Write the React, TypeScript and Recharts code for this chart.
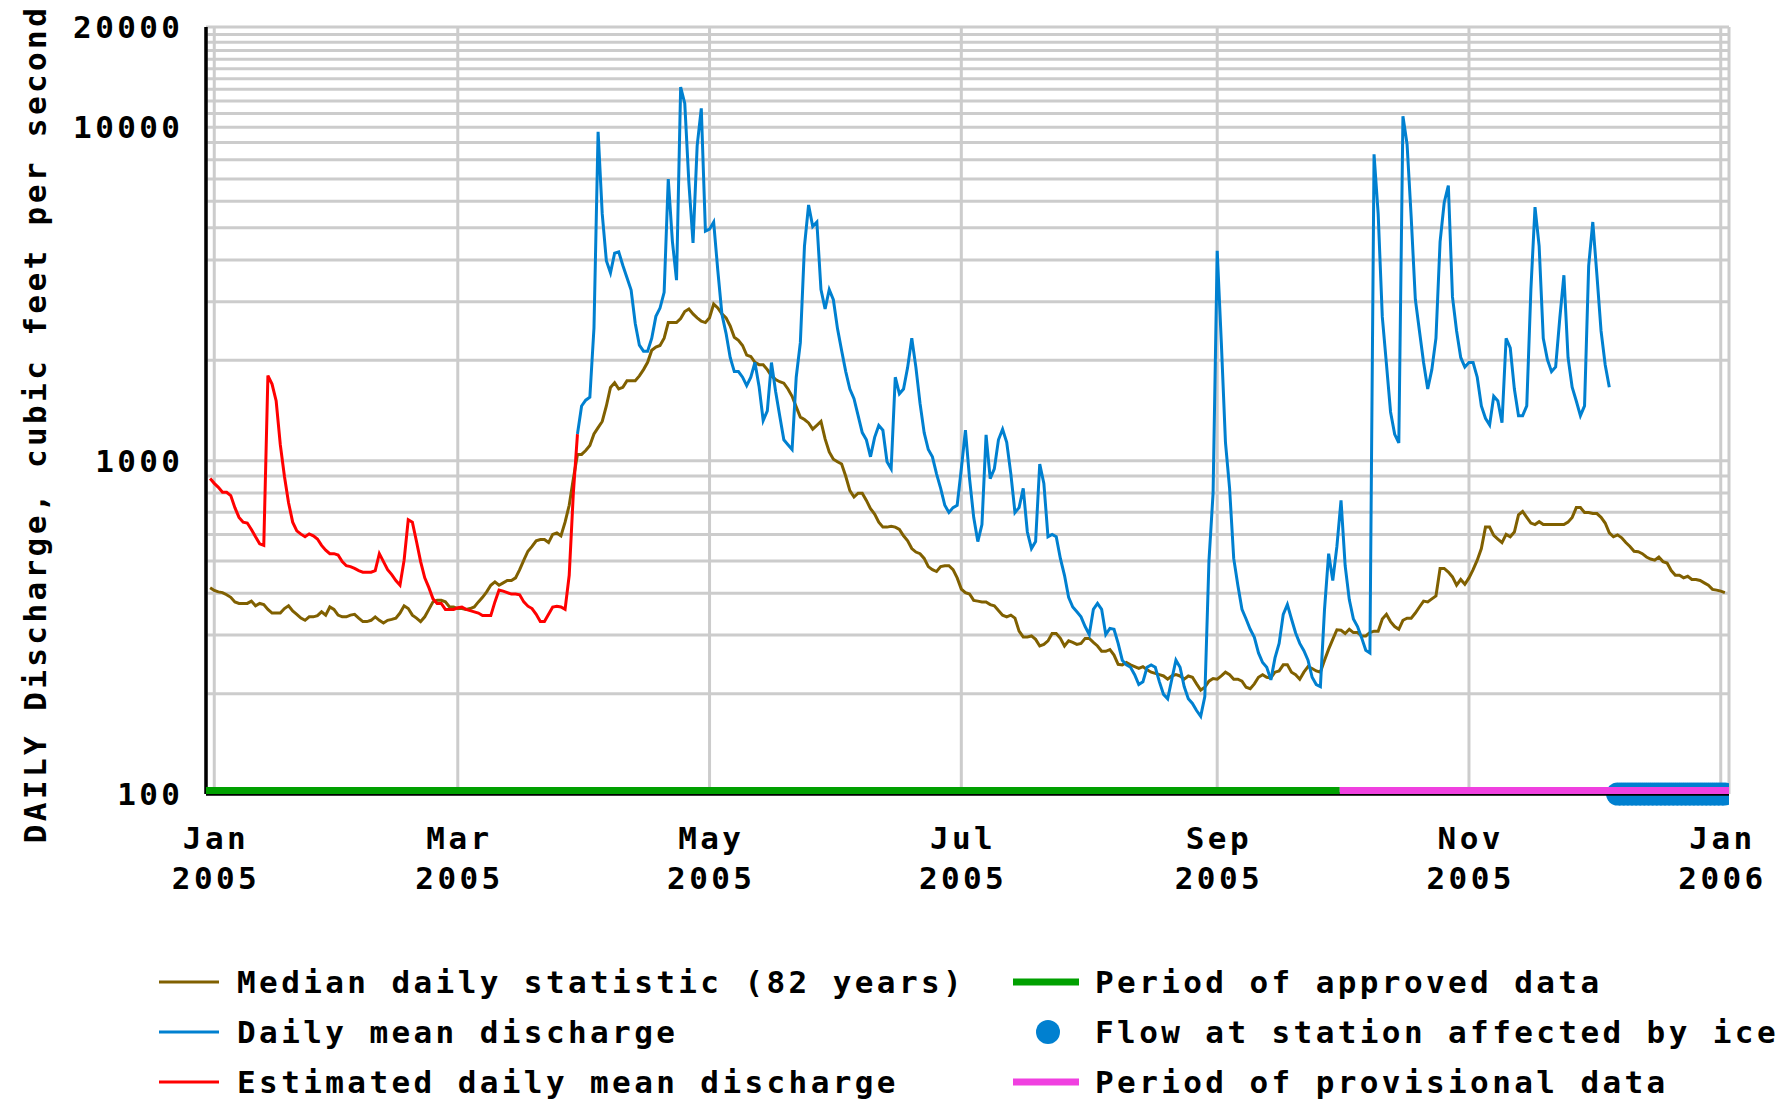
import React from "react";
import { ComposedChart, Line, Scatter, XAxis, YAxis, CartesianGrid } from "recharts";

// day 0 = Jan 1 2005, values in cubic feet per second
const medianStart = -1;
const medianCfs = [
  416, 408, 404, 402, 396, 389, 377, 373, 373, 373,
  379, 367, 373, 370, 358, 349, 349, 349, 360, 367,
  354, 346, 337, 332, 340, 340, 343, 352, 344, 364,
  358, 344, 340, 340, 344, 346, 337, 329, 329, 332,
  340, 332, 326, 332, 334, 337, 349, 367, 360, 344,
  337, 329, 340, 358, 377, 381, 381, 377, 364, 364,
  360, 360, 358, 360, 364, 377, 389, 404, 423, 433,
  423, 430, 437, 437, 445, 471, 503, 535, 553, 575,
  580, 580, 568, 601, 607, 595, 654, 735, 883, 1044,
  1044, 1073, 1110, 1202, 1256, 1311, 1459, 1659, 1714, 1641,
  1659, 1737, 1737, 1737, 1796, 1876, 1973, 2144, 2193, 2216,
  2330, 2596, 2596, 2596, 2670, 2803, 2852, 2756, 2683, 2620,
  2596, 2683, 2949, 2871, 2756, 2683, 2536, 2345, 2297, 2216,
  2074, 2054, 1973, 1941, 1941, 1876, 1796, 1752, 1725, 1708,
  1641, 1560, 1450, 1351, 1329, 1298, 1243, 1276, 1311, 1162,
  1062, 1010, 993, 977, 898, 813, 778, 799, 799, 760,
  718, 692, 654, 632, 632, 636, 632, 622, 595, 575,
  545, 532, 526, 509, 481, 471, 465, 481, 484, 484,
  471, 445, 412, 402, 398, 381, 379, 377, 377, 370,
  367, 355, 344, 340, 344, 337, 308, 296, 296, 298,
  291, 278, 281, 288, 303, 303, 293, 278, 288, 285,
  281, 283, 293, 293, 285, 278, 268, 268, 271, 261,
  245, 244, 248, 244, 241, 238, 241, 236, 232, 230,
  228, 226, 221, 226, 228, 226, 221, 226, 224, 214,
  205, 209, 218, 222, 221, 226, 232, 228, 221, 221,
  218, 209, 207, 214, 224, 228, 224, 223, 232, 234,
  244, 244, 232, 228, 221, 232, 241, 238, 234, 232,
  252, 272, 291, 311, 310, 303, 312, 305, 305, 298,
  298, 305, 308, 308, 335, 346, 329, 318, 312, 332,
  337, 337, 349, 364, 379, 377, 385, 393, 475, 475,
  463, 448, 423, 440, 426, 445, 471, 503, 545, 632,
  632, 597, 582, 568, 601, 591, 611, 688, 704, 676,
  650, 643, 656, 643, 643, 643, 643, 643, 643, 654,
  676, 723, 723, 699, 699, 694, 694, 676, 650, 607,
  591, 599, 587, 568, 553, 535, 533, 526, 514, 507,
  503, 514, 498, 493, 468, 453, 453, 445, 450, 440,
  440, 437, 430, 423, 411, 409, 406, 402,
];

const estimatedStart = -1;
const estimatedCfs = [
  884, 855, 832, 804, 804, 786, 723, 676, 654, 650,
  622, 591, 563, 557, 1800, 1697, 1510, 1117, 898, 748,
  654, 616, 602, 591, 603, 595, 582, 557, 539, 526,
  526, 521, 498, 484, 481, 475, 468, 463, 463, 463,
  468, 526, 498, 471, 455, 437, 423, 503, 665, 654,
  572, 498, 445, 416, 385, 373, 373, 358, 358, 358,
  362, 364, 358, 355, 352, 349, 343, 343, 343, 377,
  409, 406, 402, 398, 398, 396, 377, 366, 360, 346,
  329, 329, 346, 364, 366, 364, 358, 453, 799, 1202,
];

const dailyStart = 88;
const dailyCfs = [
  1202, 1459, 1519, 1550, 2500, 9700, 5500, 3980, 3660, 4190,
  4230, 3850, 3540, 3250, 2580, 2220, 2130, 2130, 2330, 2710,
  2870, 3200, 7000, 4550, 3480, 13200, 11800, 6800, 4500, 8800,
  11400, 4880, 4950, 5200, 3720, 2750, 2410, 2040, 1850, 1850,
  1780, 1680, 1780, 1970, 1670, 1320, 1410, 1970, 1615, 1365,
  1155, 1117, 1080, 1780, 2260, 4400, 5850, 5040, 5200, 3260,
  2850, 3260, 3040, 2490, 2140, 1850, 1640, 1535, 1365, 1214,
  1155, 1027, 1175, 1276, 1234, 993, 945, 1780, 1587, 1640,
  1905, 2330, 1905, 1485, 1214, 1080, 1027, 913, 826, 735,
  699, 723, 735, 945, 1234, 883, 676, 572, 643, 1195,
  883, 945, 1155, 1243, 1135, 913, 699, 723, 826, 611,
  545, 572, 977, 855, 591, 601, 591, 509, 453, 389,
  364, 352, 340, 318, 301, 358, 373, 358, 301, 314,
  312, 283, 252, 244, 240, 228, 213, 217, 240, 244,
  240, 217, 199, 193, 221, 252, 240, 210, 193, 187,
  178, 171, 196, 500, 799, 4260, 2260, 1135, 826, 509,
  423, 358, 335, 312, 295, 265, 248, 240, 220, 256,
  283, 346, 370, 335, 304, 283, 269, 252, 224, 213,
  210, 358, 526, 437, 553, 760, 484, 383, 335, 318,
  294, 270, 265, 8300, 5500, 2700, 1950, 1400, 1200, 1130,
  10800, 8900, 5380, 3050, 2450, 1970, 1640, 1875, 2330, 4540,
  5950, 6690, 3100, 2450, 2040, 1910, 1970, 1970, 1780, 1460,
  1340, 1280, 1560, 1510, 1300, 2330, 2180, 1640, 1365, 1365,
  1460, 3260, 5760, 4400, 2330, 2010, 1850, 1910, 2670, 3600,
  2040, 1660, 1510, 1365, 1460, 3840, 5200, 3600, 2450, 1940,
  1660,
];

// days flagged as ice-affected (drawn on the 100 cfs baseline)
const iceDays = [
  340, 341, 342, 343, 344, 345, 346, 347, 348, 349, 350, 351, 352,
  353, 354, 355, 356, 357, 358, 359, 360, 361, 362, 363, 364, 365, 366,
];
const approvedPeriod = [-2, 272.7];
const provisionalPeriod = [272.7, 367];

const monthTicks = [0, 59, 120, 181, 243, 304, 365];
const monthNames = ["Jan", "Mar", "May", "Jul", "Sep", "Nov", "Jan"];
const yearNames = ["2005", "2005", "2005", "2005", "2005", "2005", "2006"];
const monthStarts = [0, 31, 59, 90, 120, 151, 181, 212, 243, 273, 304, 334];
const yGrid = [
  100, 200, 300, 400, 500, 600, 700, 800, 900,
  1000, 2000, 3000, 4000, 5000, 6000, 7000, 8000, 9000,
  10000, 11000, 12000, 13000, 14000, 15000, 16000, 17000, 18000, 19000, 20000,
];
const yLabeled = [100, 1000, 10000, 20000];

const MEDIAN = "#806000";
const BLUE = "#0080d0";
const RED = "#ff0000";
const GREEN = "#00a000";
const PINK = "#f040e0";
const FONT = '"DejaVu Sans Mono", "Liberation Mono", monospace';
const TEXT = { fontFamily: FONT, fontSize: 31, fontWeight: 700, fill: "#000", letterSpacing: 3.4 };

const toPoints = (start: number, vals: number[]) => vals.map((v, i) => ({ day: start + i, cfs: v }));
const median = toPoints(medianStart, medianCfs);
const estimated = toPoints(estimatedStart, estimatedCfs);
const daily = toPoints(dailyStart, dailyCfs);
const ice = iceDays.map((d) => ({ day: d, cfs: 100 }));
const approved = approvedPeriod.map((d) => ({ day: d, cfs: 100 }));
const provisional = provisionalPeriod.map((d) => ({ day: d, cfs: 100 }));
const topTicks = [...monthStarts.flatMap((s) => [s, s + 10, s + 20]), 365];

const border = { stroke: "#000", strokeWidth: 3.5 };

function MonthTick(props: any) {
  const { x, y, payload } = props;
  const i = monthTicks.indexOf(payload.value);
  return (
    <text x={x + 1.7} y={y} textAnchor="middle" {...TEXT}>
      <tspan x={x + 1.7} dy={55}>{monthNames[i]}</tspan>
      <tspan x={x + 1.7} dy={40}>{yearNames[i]}</tspan>
    </text>
  );
}

const IceDot = (props: any) => <circle cx={props.cx} cy={props.cy} r={11.5} fill={BLUE} />;

const legendLeft = [
  { label: "Median daily statistic (82 years)", color: MEDIAN },
  { label: "Daily mean discharge", color: BLUE },
  { label: "Estimated daily mean discharge", color: RED },
];
const legendRight = [
  { label: "Period of approved data", color: GREEN, kind: "bar" },
  { label: "Flow at station affected by ice", color: BLUE, kind: "dot" },
  { label: "Period of provisional data", color: PINK, kind: "bar" },
];
const rowY = [982, 1032, 1082];

export default function App() {
  return (
    <div style={{ position: "absolute", left: 0, top: 0, width: 1786, height: 1101, background: "#fff" }}>
      <ComposedChart width={1786} height={1101} margin={{ top: 27, right: 57, bottom: 0, left: 0 }}>
        <CartesianGrid stroke="#cccccc" strokeWidth={3} />
        <XAxis
          dataKey="day"
          type="number"
          domain={[-2, 367]}
          ticks={monthTicks}
          interval={0}
          allowDataOverflow
          height={307}
          tickSize={0}
          tickMargin={0}
          tickLine={false}
          tick={<MonthTick />}
          axisLine={border}
        />
        <XAxis
          xAxisId="top"
          orientation="top"
          type="number"
          domain={[-2, 367]}
          ticks={topTicks}
          interval={0}
          allowDataOverflow
          mirror
          height={0}
          tick={false}
          tickSize={7}
          tickLine={{ stroke: "#000", strokeWidth: 3 }}
          axisLine={border}
        />
        <YAxis
          scale="log"
          domain={[100, 20000]}
          ticks={yGrid}
          interval={0}
          allowDataOverflow
          width={206}
          tickSize={0}
          tickMargin={22.6}
          tickLine={false}
          tick={TEXT}
          tickFormatter={(v: number) => (yLabeled.includes(v) ? String(v) : "")}
          axisLine={border}
        />
        <YAxis
          yAxisId="right"
          orientation="right"
          scale="log"
          domain={[100, 20000]}
          mirror
          width={0}
          tick={false}
          tickLine={false}
          axisLine={border}
        />
        <YAxis yAxisId="ice" hide scale="log" domain={[100, 20000]} />
        <Scatter yAxisId="ice" data={ice} dataKey="cfs" shape={IceDot} isAnimationActive={false} zIndex={350} />
        <Line data={approved} dataKey="cfs" stroke={GREEN} strokeWidth={14} dot={false} activeDot={false} isAnimationActive={false} zIndex={700} />
        <Line data={provisional} dataKey="cfs" stroke={PINK} strokeWidth={14} dot={false} activeDot={false} isAnimationActive={false} zIndex={700} />
        <Line data={median} dataKey="cfs" stroke={MEDIAN} strokeWidth={3} dot={false} activeDot={false} isAnimationActive={false} />
        <Line data={estimated} dataKey="cfs" stroke={RED} strokeWidth={3} dot={false} activeDot={false} isAnimationActive={false} />
        <Line data={daily} dataKey="cfs" stroke={BLUE} strokeWidth={3} dot={false} activeDot={false} isAnimationActive={false} />
      </ComposedChart>
      <svg width={1786} height={1101} style={{ position: "absolute", left: 0, top: 0, pointerEvents: "none" }}>
        <text
          x={35}
          y={424}
          transform="rotate(-90 35 424)"
          textAnchor="middle"
          dominantBaseline="central"
          {...TEXT}
        >
          DAILY Discharge, cubic feet per second
        </text>
        {legendLeft.map((item, i) => (
          <g key={item.label}>
            <line x1={159} x2={219} y1={rowY[i]} y2={rowY[i]} stroke={item.color} strokeWidth={3} />
            <text x={237} y={rowY[i]} dominantBaseline="central" {...TEXT}>{item.label}</text>
          </g>
        ))}
        {legendRight.map((item, i) => (
          <g key={item.label}>
            {item.kind === "bar" ? (
              <line x1={1013} x2={1079} y1={rowY[i]} y2={rowY[i]} stroke={item.color} strokeWidth={7} />
            ) : (
              <circle cx={1048} cy={rowY[i]} r={12} fill={item.color} />
            )}
            <text x={1095} y={rowY[i]} dominantBaseline="central" {...TEXT}>{item.label}</text>
          </g>
        ))}
      </svg>
    </div>
  );
}
